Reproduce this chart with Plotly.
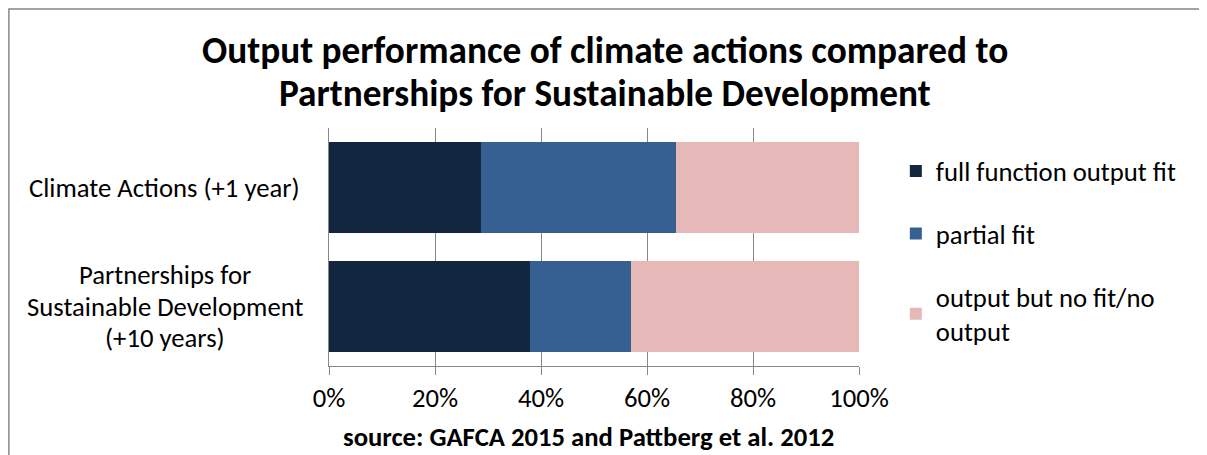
import plotly.graph_objects as go

# data (shares in %)
categories = ["Climate Actions (+1 year)", "Partnerships for Sustainable Development (+10 years)"]
category_lines = [["Climate Actions (+1 year)"],
                  ["Partnerships for", "Sustainable Development", "(+10 years)"]]
series_names = ["full function output fit", "partial fit", "output but no fit/no<br>output"]
full_fit = [28.7, 38.0]
partial_fit = [36.8, 19.0]
no_fit = [34.5, 43.0]
x_ticks = [0, 20, 40, 60, 80, 100]
x_tick_labels = ["0%", "20%", "40%", "60%", "80%", "100%"]

colors = ["#12263F", "#366092", "#E6B9B8"]
FONT = "Carlito, Calibri, 'Open Sans', sans-serif"
TXT = 26.7   # 20pt
TITLE = 37.3  # 28pt
LINE_H = 31.5

fig = go.Figure()
for i, (name, vals) in enumerate(zip(series_names, [full_fit, partial_fit, no_fit])):
    fig.add_trace(go.Bar(
        y=categories, x=vals, name=name, orientation="h",
        marker=dict(color=colors[i], line=dict(width=0)),
        legendgroup=f"g{i}", hoverinfo="skip"
    ))

# category labels, one annotation per line (centred) so the line spacing matches
for cat, lines in zip(categories, category_lines):
    mid = (len(lines) - 1) / 2
    for j, line in enumerate(lines):
        fig.add_annotation(x=-0.31, xref="paper", y=cat, yref="y", text=line,
                           showarrow=False, xanchor="center", yanchor="middle",
                           yshift=(mid - j) * LINE_H,
                           font=dict(size=TXT, color="#000000", family=FONT))

# title lines
fig.add_annotation(x=0.52, xref="paper", y=1.328, yref="paper",
                   text="<b>Output performance of climate actions compared to</b>",
                   showarrow=False, xanchor="center", yanchor="middle",
                   font=dict(size=TITLE, color="#000000", family=FONT))
fig.add_annotation(x=0.52, xref="paper", y=1.147, yref="paper",
                   text="<b>Partnerships for Sustainable Development</b>",
                   showarrow=False, xanchor="center", yanchor="middle",
                   font=dict(size=TITLE, color="#000000", family=FONT))
# source line
fig.add_annotation(x=0.49, xref="paper", y=-0.298, yref="paper",
                   text="<b>source: GAFCA 2015 and Pattberg et al. 2012</b>",
                   showarrow=False, xanchor="center", yanchor="middle",
                   font=dict(size=TXT, color="#000000", family=FONT))

# outer chart border
fig.add_shape(type="rect", xref="paper", yref="paper",
              x0=-0.604, x1=2.0, y0=-0.6, y1=1.5,
              line=dict(color="#878787", width=1.5), layer="below")

fig.update_layout(
    width=1199, height=447,
    margin=dict(l=321, r=348, t=120, b=89),
    barmode="stack", bargap=0.24,
    plot_bgcolor="white", paper_bgcolor="white",
    font=dict(family=FONT, size=TXT, color="#000000"),
    showlegend=True,
    legend=dict(x=1.0695, xanchor="left", y=0.92, yanchor="top",
                traceorder="grouped", tracegroupgap=25,
                font=dict(size=TXT, family=FONT), itemwidth=30),
    xaxis=dict(range=[0, 100], tickvals=x_ticks, ticktext=x_tick_labels,
               showgrid=True, gridcolor="#878787", gridwidth=1,
               showline=True, linecolor="#878787", linewidth=1,
               ticks="outside", ticklen=8, tickcolor="#878787",
               ticklabelstandoff=0,
               tickfont=dict(size=TXT, family=FONT), zeroline=False),
    yaxis=dict(categoryorder="array", categoryarray=categories,
               autorange="reversed", showticklabels=False,
               showline=True, linecolor="#878787", linewidth=1,
               showgrid=False, zeroline=False),
)

fig.write_html("out.html")
